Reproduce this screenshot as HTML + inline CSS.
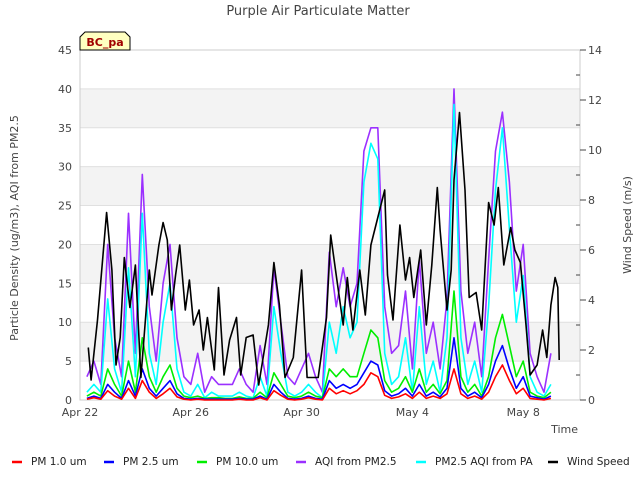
<!DOCTYPE html>
<html><head><meta charset="utf-8"><style>
body{margin:0;background:#fff;font-family:"DejaVu Sans","Liberation Sans",sans-serif;}
svg text{font-family:"DejaVu Sans","Liberation Sans",sans-serif;}
</style></head><body>
<svg id="chart" width="640" height="480" viewBox="0 0 640 480" xmlns="http://www.w3.org/2000/svg">
<rect x="0" y="0" width="640" height="480" fill="#fff"/>
<text x="318" y="15" text-anchor="middle" font-size="13" fill="#444">Purple Air Particulate Matter</text>
<g id="bands"></g>
<g id="grid"></g>
<rect x="80" y="50" width="500" height="350" fill="none" stroke="#ccc"/>
<g id="series"></g>
<g id="axes"></g>
<g>
<path d="M80,50 L80,37 L85,32 L125,32 L130,37 L130,50 Z" fill="#ffffc0" stroke="#000" stroke-width="1"/>
<text x="105" y="46" text-anchor="middle" font-size="11" font-weight="bold" fill="#a00000">BC_pa</text>
</g>
<text transform="translate(18,228) rotate(-90)" text-anchor="middle" font-size="11" fill="#444">Particle Density (ug/m3), AQI from PM2.5</text>
<text transform="translate(631,225) rotate(-90)" text-anchor="middle" font-size="11" fill="#444">Wind Speed (m/s)</text>
<text x="578" y="433" text-anchor="end" font-size="11" fill="#444">Time</text>
<g id="legend"></g>
</svg>
<script>
const pm1 = [0.1,0.3,0.1,1.2, 0.5,0.1,1.5,0.2, 2.5,1,0.2,0.8, 1.5,0.4,0.1,0, 0.1,0,0,0, 0,0,0.1,0, 0,0.3,0,1.2, 0.6,0.1,0,0.1, 0.3,0.1,0,1.5, 0.8,1.2,0.8,1.2, 2,3.5,3,0.6, 0.2,0.4,0.8,0.2, 1,0.2,0.5,0.2, 0.8,4,0.8,0.2, 0.5,0.1,1,3, 4.5,2.5,0.8,1.5, 0.2,0.1,0,0.2];
const pm25 = [0.2,0.5,0.2,2, 1,0.2,2.5,0.5, 4,1.5,0.5,1.5, 2.5,0.8,0.2,0.1, 0.2,0.1,0.1,0.1, 0.1,0.1,0.2,0.1, 0.1,0.5,0.1,2, 1,0.2,0.1,0.2, 0.5,0.2,0.1,2.5, 1.5,2,1.5,2, 3.5,5,4.5,1.2, 0.5,0.8,1.5,0.5, 2,0.5,1,0.4, 1.5,8,1.5,0.5, 1,0.3,2,5, 7,4,1.5,3, 0.5,0.3,0.1,0.5];
const pm10 = [0.5,1,0.5,4, 2,0.5,5,1, 8,3,1,3, 4.5,1.5,0.5,0.3, 0.5,0.2,0.3,0.3, 0.2,0.2,0.4,0.2, 0.2,1,0.3,3.5, 2,0.5,0.3,0.5, 1,0.5,0.3,4, 3,4,3,3, 6,9,8,2.5, 1,1.5,3,1, 4,1,2,0.8, 2.5,14,3,1, 2,0.5,3,8, 11,7,3,5, 1,0.5,0.3,1];
const aqi = [3,5,2,20, 8,3,24,6, 29,12,5,15, 20,8,3,2, 6,1,3,2, 2,2,4,2, 1,7,2,17, 10,3,2,4, 6,3,1,19, 12,17,12,15, 32,35,35,12, 6,7,14,4, 18,6,10,4, 13,40,14,6, 10,3,18,32, 37,28,14,20, 6,3,1,6];
const aqiPA = [1,2,1,13, 4,1,17,3, 24,6,2,10, 15,4,1,0.5, 2,0.3,1,0.5, 0.5,0.5,1,0.5, 0.3,3,0.5,12, 6,1,0.5,1, 2,1,0.3,10, 6,12,8,10, 28,33,31,6, 2,3,8,1, 12,2,5,1, 8,38,8,2, 5,1,12,27, 35,22,10,16, 3,1,0.5,2];
const windDays = [0.3,0.4,0.63,0.96,1.15,1.3,1.45,1.6,1.8,2.0,2.2,2.5,2.6,2.85,3.0,3.15,3.3,3.45,3.6,3.8,3.95,4.1,4.3,4.45,4.6,4.85,5.0,5.2,5.4,5.65,5.8,6.0,6.25,6.45,6.8,7.0,7.2,7.4,7.7,8.0,8.2,8.6,8.9,9.05,9.25,9.5,9.65,9.85,10.1,10.3,10.5,10.75,11.0,11.1,11.3,11.55,11.75,11.9,12.05,12.3,12.5,12.7,12.9,13.0,13.25,13.4,13.5,13.7,13.9,14.05,14.3,14.5,14.75,14.95,15.1,15.3,15.55,15.7,15.9,16.1,16.25,16.5,16.7,16.85,17.0,17.15,17.25,17.3];
const wind = [2.1,0.8,3.2,7.5,5.2,1.4,2.5,5.7,3.7,5.4,0.9,5.2,4.2,6.2,7.1,6.4,3.6,5.0,6.2,3.6,4.8,3.0,3.6,2.0,3.3,1.2,4.5,1.0,2.4,3.3,1.0,2.5,2.6,0.6,3.0,5.5,3.8,0.9,1.7,5.2,0.9,0.9,3.3,6.6,5.0,3.0,4.9,2.8,5.2,3.4,6.2,7.3,8.4,5.0,3.2,7.0,4.8,5.7,4.1,6.0,3.0,5.4,8.5,6.8,3.6,5.2,8.8,11.5,8.4,4.1,4.3,2.8,7.9,7.0,8.5,5.4,6.9,6.0,5.5,3.0,1.0,1.4,2.8,1.7,3.8,4.9,4.5,1.6];
const xTickDays = [0,4,8,12,16];
const xTickLabels = ["Apr 22","Apr 26","Apr 30","May 4","May 8"];
const yTicks = [0,5,10,15,20,25,30,35,40,45];
const y2Ticks = [0,2,4,6,8,10,12,14];

const NS="http://www.w3.org/2000/svg";
const X0=80,X1=580,Y0=400,Y1=50,DAYS=18.05;
const xs=d=>X0+d*(X1-X0)/DAYS;
const ys=v=>Y0-v*(Y0-Y1)/45;
const ys2=v=>Y0-v*(Y0-Y1)/14;
function mk(t,a,p){const e=document.createElementNS(NS,t);for(const k in a)e.setAttribute(k,a[k]);(p||document.getElementById('chart')).appendChild(e);return e;}
const bands=document.getElementById('bands'),grid=document.getElementById('grid'),axes=document.getElementById('axes');
for(let v=5;v<45;v+=10){const r=mk('rect',{x:X0,y:ys(v+5),width:X1-X0,height:ys(v)-ys(v+5),fill:'#f3f3f3'},bands);

}
yTicks.forEach(v=>{const l=mk('line',{x1:X0,x2:X1,y1:ys(v),y2:ys(v),stroke:'#e0e0e0'},grid);


const t=mk('text',{x:72,y:ys(v)+4,'text-anchor':'end','font-size':11,fill:'#444'},axes);t.textContent=v;

});
for(let v=0;v<=14;v++){const l=mk('line',{x1:X1,x2:X1+(v%2?-4:6),y1:ys2(v),y2:ys2(v),stroke:'#444'},axes);

}
y2Ticks.forEach(v=>{const t=mk('text',{x:588,y:ys2(v)+4,'font-size':11,fill:'#444'},axes);t.textContent=v;

});
xTickDays.forEach((d,i)=>{const t=mk('text',{x:xs(d),y:416,'text-anchor':'middle','font-size':11,fill:'#444'},axes);t.textContent=xTickLabels[i];

});
const ser=document.getElementById('series');
function line(vals,days,yf,color,name){const pts=vals.map((v,i)=>xs(days?days[i]:0.25+0.25*i).toFixed(1)+','+yf(v).toFixed(1)).join(' ');
const p=mk('polyline',{points:pts,fill:'none',stroke:color,'stroke-width':1.6,'stroke-linejoin':'round'},ser);

}
line(aqi,null,ys,'#9b30ff','series-aqi-pm25');
line(aqiPA,null,ys,'#00ffff','series-pm25-aqi-pa');
line(pm10,null,ys,'#00ee00','series-pm10');
line(pm25,null,ys,'#0000ff','series-pm25');
line(pm1,null,ys,'#ff0000','series-pm1');
line(wind,windDays,ys2,'#000000','series-wind-speed');
const leg=[["PM 1.0 um","#ff0000",12],["PM 2.5 um","#0000ff",104],["PM 10.0 um","#00ee00",197],["AQI from PM2.5","#9b30ff",296],["PM2.5 AQI from PA","#00ffff",416],["Wind Speed","#000000",548]];
const lg=document.getElementById('legend');
leg.forEach(([n,c,x])=>{const g=mk('g',{},lg);


mk('line',{x1:x,x2:x+10,y1:462,y2:462,stroke:c,'stroke-width':2.5},g);
const t=mk('text',{x:x+19,y:465,'font-size':10.5,fill:'#222'},g);t.textContent=n;});
</script>
</body></html>
